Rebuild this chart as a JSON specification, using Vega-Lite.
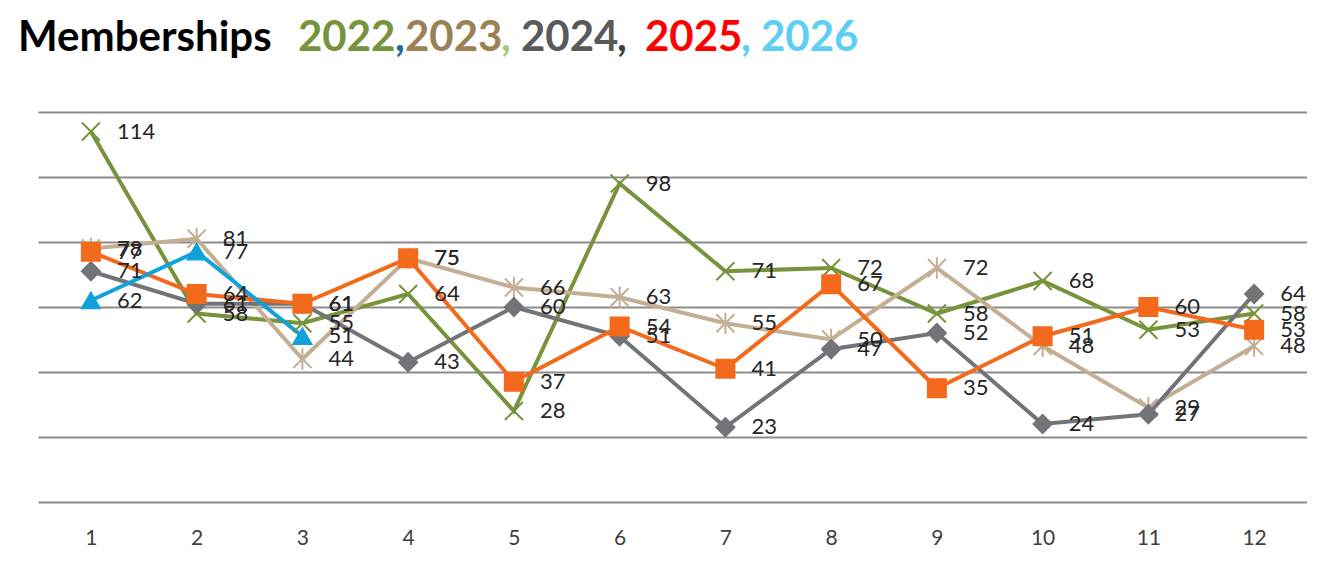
{
  "$schema": "https://vega.github.io/schema/vega-lite/v6.json",
  "background": "white",
  "padding": {"left": 18, "top": 17, "right": 0, "bottom": 0},
  "config": {
    "view": {"stroke": null},
    "title": {"anchor": "start", "frame": "group", "offset": 0, "dx": -20, "font": "Lato", "fontSize": 42, "fontWeight": "bold"}
  },
  "spacing": 47,
  "vconcat": [
    {
      "hconcat": [
        {"width": 280, "height": 1, "data": {"values": []}, "mark": "point", "title": {"text": "Memberships", "color": "#000000"}},
        {"width": 97, "height": 1, "data": {"values": []}, "mark": "point", "title": {"text": "2022", "color": "#77933C"}},
        {"width": 10, "height": 1, "data": {"values": []}, "mark": "point", "title": {"text": ",", "color": "#1B6E98"}},
        {"width": 96, "height": 1, "data": {"values": []}, "mark": "point", "title": {"text": "2023", "color": "#9C8155"}},
        {"width": 20, "height": 1, "data": {"values": []}, "mark": "point", "title": {"text": ",", "color": "#A8C97F"}},
        {"width": 96, "height": 1, "data": {"values": []}, "mark": "point", "title": {"text": "2024", "color": "#595959"}},
        {"width": 28, "height": 1, "data": {"values": []}, "mark": "point", "title": {"text": ",", "color": "#404040"}},
        {"width": 96, "height": 1, "data": {"values": []}, "mark": "point", "title": {"text": "2025", "color": "#FF0000"}},
        {"width": 20, "height": 1, "data": {"values": []}, "mark": "point", "title": {"text": ",", "color": "#5DCFF4"}},
        {"width": 100, "height": 1, "data": {"values": []}, "mark": "point", "title": {"text": "2026", "color": "#5DCFF4"}}
      ],
      "spacing": 0,
      "bounds": "flush"
    },
    {
      "width": 1269,
      "height": 390,
      "data": {"values": [
        {"m": 1, "s": "2022", "v": 114}, {"m": 2, "s": "2022", "v": 58}, {"m": 3, "s": "2022", "v": 55}, {"m": 4, "s": "2022", "v": 64},
        {"m": 5, "s": "2022", "v": 28}, {"m": 6, "s": "2022", "v": 98}, {"m": 7, "s": "2022", "v": 71}, {"m": 8, "s": "2022", "v": 72},
        {"m": 9, "s": "2022", "v": 58}, {"m": 10, "s": "2022", "v": 68}, {"m": 11, "s": "2022", "v": 53}, {"m": 12, "s": "2022", "v": 58},
        {"m": 1, "s": "2023", "v": 78}, {"m": 2, "s": "2023", "v": 81}, {"m": 3, "s": "2023", "v": 44}, {"m": 4, "s": "2023", "v": 75},
        {"m": 5, "s": "2023", "v": 66}, {"m": 6, "s": "2023", "v": 63}, {"m": 7, "s": "2023", "v": 55}, {"m": 8, "s": "2023", "v": 50},
        {"m": 9, "s": "2023", "v": 72}, {"m": 10, "s": "2023", "v": 48}, {"m": 11, "s": "2023", "v": 29}, {"m": 12, "s": "2023", "v": 48},
        {"m": 1, "s": "2024", "v": 71}, {"m": 2, "s": "2024", "v": 61}, {"m": 3, "s": "2024", "v": 61}, {"m": 4, "s": "2024", "v": 43},
        {"m": 5, "s": "2024", "v": 60}, {"m": 6, "s": "2024", "v": 51}, {"m": 7, "s": "2024", "v": 23}, {"m": 8, "s": "2024", "v": 47},
        {"m": 9, "s": "2024", "v": 52}, {"m": 10, "s": "2024", "v": 24}, {"m": 11, "s": "2024", "v": 27}, {"m": 12, "s": "2024", "v": 64},
        {"m": 1, "s": "2025", "v": 77}, {"m": 2, "s": "2025", "v": 64}, {"m": 3, "s": "2025", "v": 61}, {"m": 4, "s": "2025", "v": 75},
        {"m": 5, "s": "2025", "v": 37}, {"m": 6, "s": "2025", "v": 54}, {"m": 7, "s": "2025", "v": 41}, {"m": 8, "s": "2025", "v": 67},
        {"m": 9, "s": "2025", "v": 35}, {"m": 10, "s": "2025", "v": 51}, {"m": 11, "s": "2025", "v": 60}, {"m": 12, "s": "2025", "v": 53},
        {"m": 1, "s": "2026", "v": 62}, {"m": 2, "s": "2026", "v": 77}, {"m": 3, "s": "2026", "v": 51}
      ]},
      "encoding": {
        "x": {"field": "m", "type": "ordinal", "scale": {"type": "point", "padding": 0.5},
              "axis": {"title": null, "labelAngle": 0, "domain": false, "ticks": false, "grid": false,
                       "labelFont": "Lato", "labelFontSize": 21, "labelColor": "#404040", "labelPadding": 25}},
        "y": {"field": "v", "type": "quantitative", "scale": {"domain": [0, 120], "nice": false, "zero": true},
              "axis": {"title": null, "labels": false, "ticks": false, "domain": false, "grid": true,
                       "values": [0, 20, 40, 60, 80, 100, 120], "gridColor": "#8C8C8C", "gridWidth": 2, "gridOpacity": 1,
                       "minExtent": 20, "maxExtent": 20}}
      },
      "layer": [
        {
          "mark": {"type": "line", "strokeWidth": 4},
          "encoding": {
            "color": {"field": "s", "type": "nominal", "legend": null,
                      "scale": {"domain": ["2022", "2023", "2024", "2025", "2026"], "range": ["#77933C", "#C4AF95", "#717478", "#F46A1C", "#12A2DB"]}}
          }
        },
        {
          "mark": {"type": "point", "strokeWidth": 2, "opacity": 1, "fillOpacity": 1, "strokeOpacity": 1},
          "encoding": {
            "stroke": {"field": "s", "type": "nominal", "legend": null,
                      "scale": {"domain": ["2022", "2023", "2024", "2025", "2026"], "range": ["#77933C", "#C4AF95", "#717478", "#F46A1C", "#12A2DB"]}},
            "fill": {"field": "s", "type": "nominal", "legend": null,
                      "scale": {"domain": ["2022", "2023", "2024", "2025", "2026"], "range": ["transparent", "transparent", "#717478", "#F46A1C", "#12A2DB"]}},
            "shape": {"field": "s", "type": "nominal", "legend": null,
                      "scale": {"domain": ["2022", "2023", "2024", "2025", "2026"], "range": ["M-1,-1L1,1M-1,1L1,-1", "M-1,-1L1,1M-1,1L1,-1M0,-1.2L0,1.2", "diamond", "square", "triangle-up"]}},
            "size": {"field": "s", "type": "nominal", "legend": null,
                     "scale": {"domain": ["2022", "2023", "2024", "2025", "2026"], "range": [324, 324, 220, 320, 320]}}
          }
        },
        {
          "mark": {"type": "text", "align": "left", "baseline": "middle", "dx": 26, "font": "Lato", "fontSize": 22, "color": "#262626"},
          "encoding": {"text": {"field": "v", "type": "quantitative"}}
        }
      ]
    }
  ]
}
